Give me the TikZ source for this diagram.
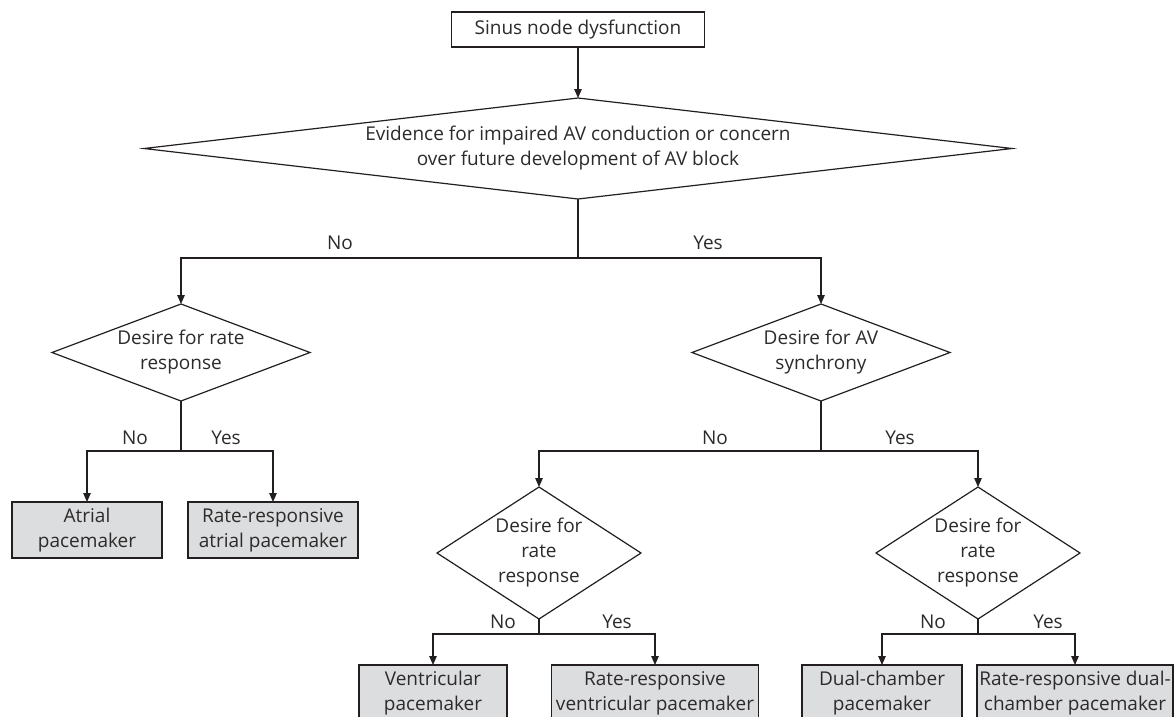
\documentclass[tikz,border=0pt]{standalone}
\usepackage{fontspec}
\setsansfont{Open Sans}
\usetikzlibrary{shapes.geometric,arrows.meta}
\begin{document}
\begin{tikzpicture}[x=1pt,y=-1pt,
  ink/.style={draw={rgb,255:red,35;green,31;blue,32},line width=1.2pt},
  txt/.style={text={rgb,255:red,45;green,42;blue,43},font=\sffamily\fontsize{19}{25}\selectfont,align=center,inner sep=0pt,outer sep=0pt},
  startbox/.style={txt,ink,fill=white,minimum width=253,minimum height=35},
  pacer/.style={txt,ink,fill={rgb,255:red,220;green,221;blue,222},minimum height=56},
  query/.style={txt,ink,diamond,fill=white},
  branch/.style={txt,anchor=base},
  link/.style={ink,fill=none},
  arrow/.style={link,-{Triangle[length=9pt,width=7.5pt]}}]
\useasboundingbox (0,0) rectangle (1176,716);
\clip (0,0) rectangle (1176,716);
\node[startbox] (sinus) at (578,29.5) {Sinus node dysfunction};
\node[query,minimum width=868,minimum height=101,shape aspect=8.6] (avq) at (578,148.5) {Evidence for impaired AV conduction or concern\\over future development of AV block};
\node[query,minimum width=258,minimum height=97,shape aspect=2.66] (rateA) at (181,352.5) {Desire for rate\\response};
\node[query,minimum width=258,minimum height=97,shape aspect=2.66] (sync) at (821,352.5) {Desire for AV\\synchrony};
\node[query,minimum width=204,minimum height=132,shape aspect=1.55] (rateV) at (539,553) {Desire for\\rate\\response};
\node[query,minimum width=204,minimum height=132,shape aspect=1.55] (rateD) at (978,553) {Desire for\\rate\\response};
\node[pacer,minimum width=150] (atrial) at (87,530) {Atrial\\pacemaker};
\node[pacer,minimum width=170] (rratrial) at (273,530) {Rate-responsive\\atrial pacemaker};
\node[pacer,minimum width=148] (vent) at (433,693) {Ventricular\\pacemaker};
\node[pacer,minimum width=207] (rrvent) at (655,693) {Rate-responsive\\ventricular pacemaker};
\node[pacer,minimum width=160] (dual) at (882,693) {Dual-chamber\\pacemaker};
\node[pacer,minimum width=196] (rrdual) at (1075,693) {Rate-responsive dual-\\chamber pacemaker};
\coordinate (avqfork) at (578,258);
\coordinate (rateAfork) at (181,451);
\coordinate (syncfork) at (821,451);
\coordinate (rateVfork) at (539,634);
\coordinate (rateDfork) at (978,634);
\draw[arrow] (sinus) -- (avq);
\draw[link] (avq.south) -- (avqfork);
\draw[arrow] (avqfork) -| (rateA.north);
\draw[arrow] (avqfork) -| (sync.north);
\draw[link] (rateA.south) -- (rateAfork);
\draw[arrow] (rateAfork) -| (atrial.north);
\draw[arrow] (rateAfork) -| (rratrial.north);
\draw[link] (sync.south) -- (syncfork);
\draw[arrow] (syncfork) -| (rateV.north);
\draw[arrow] (syncfork) -| (rateD.north);
\draw[link] (rateV.south) -- (rateVfork);
\draw[arrow] (rateVfork) -| (vent.north);
\draw[arrow] (rateVfork) -| (rrvent.north);
\draw[link] (rateD.south) -- (rateDfork);
\draw[arrow] (rateDfork) -| (dual.north);
\draw[arrow] (rateDfork) -| (rrdual.north);
\node[branch] (avqno) at (340,249) {No};
\node[branch] (avqyes) at (708,249) {Yes};
\node[branch] (rateAno) at (135,444) {No};
\node[branch] (rateAyes) at (226,444) {Yes};
\node[branch] (syncno) at (715,444) {No};
\node[branch] (syncyes) at (900,444) {Yes};
\node[branch] (rateVno) at (503,628) {No};
\node[branch] (rateVyes) at (617,628) {Yes};
\node[branch] (rateDno) at (933,628) {No};
\node[branch] (rateDyes) at (1048,628) {Yes};
\end{tikzpicture}
\end{document}
